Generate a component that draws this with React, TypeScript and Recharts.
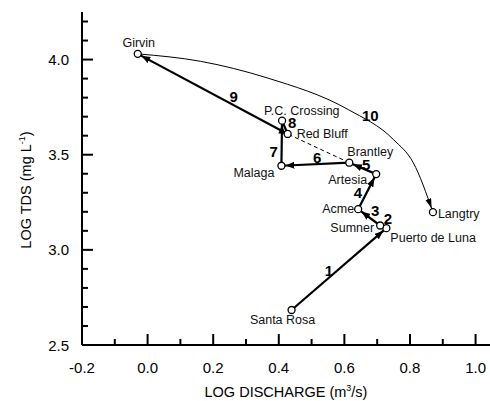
import { ComposedChart, Line, Scatter, XAxis, YAxis } from "recharts";

// stations along the river, in flow order
const stations = [
  "Santa Rosa",
  "Puerto de Luna",
  "Sumner",
  "Acme",
  "Artesia",
  "Brantley",
  "Malaga",
  "Red Bluff",
  "P.C. Crossing",
  "Girvin",
  "Langtry",
];
const logDischarge = [0.439, 0.728, 0.709, 0.642, 0.697, 0.615, 0.408, 0.427, 0.41, -0.03, 0.87];
const logTds = [2.684, 3.114, 3.128, 3.214, 3.398, 3.458, 3.442, 3.609, 3.679, 4.03, 3.198];

// reaches 1-9 as station indices (from -> to); reach 10 is the curve below
const reachFrom = [0, 1, 2, 3, 4, 5, 6, 8, 7];
const reachTo = [1, 2, 3, 4, 5, 6, 8, 7, 9];
const reachNames = ["1", "2", "3", "4", "5", "6", "7", "8", "9", "10"];

// points read along the Girvin -> Langtry curve (reach 10)
const curveDischarge = [-0.03, 0.161, 0.364, 0.612, 0.75, 0.81, 0.87];
const curveTds = [4.03, 3.991, 3.904, 3.737, 3.579, 3.458, 3.198];

// dashed link: Brantley -> Red Bluff
const dashedFrom = 5;
const dashedTo = 7;

const xTicks = [-0.2, -0.1, 0, 0.1, 0.2, 0.3, 0.4, 0.5, 0.6, 0.7, 0.8, 0.9, 1.0];
const yTicks = [2.5, 2.6, 2.7, 2.8, 2.9, 3.0, 3.1, 3.2, 3.3, 3.4, 3.5, 3.6, 3.7, 3.8, 3.9, 4.0, 4.1, 4.2];

const FONT = "'Liberation Sans', Arial, Helvetica, sans-serif";

// label placement per station: dx, dy (baseline), anchor
const stationLabel: Record<string, [number, number, "start" | "middle" | "end"]> = {
  "Santa Rosa": [-9, 14.5, "middle"],
  "Puerto de Luna": [4, 14, "start"],
  Sumner: [-6, 6.5, "end"],
  Acme: [-4, 3.5, "end"],
  Artesia: [-9, 9.5, "end"],
  Brantley: [-2, -7, "start"],
  Malaga: [-7, 11, "end"],
  "Red Bluff": [9, 4.5, "start"],
  "P.C. Crossing": [-18, -5.5, "start"],
  Girvin: [1, -7, "middle"],
  Langtry: [5, 5.5, "start"],
};
// reach number offset from the reach midpoint (px)
const reachLabel: [number, number][] = [
  [-10, 1],
  [4.7, -8.7],
  [6, -6.5],
  [-9.3, 0.5],
  [3.5, -4.4],
  [1.7, -6.8],
  [-8, 8.2],
  [7.2, -4.4],
  [21, 2.4],
  [85, -17.6],
];

const pt = (i: number) => ({ x: logDischarge[i], y: logTds[i] });
const stationPoints = stations.map((name, i) => ({ name, ...pt(i) }));
const reaches = reachFrom.map((f, k) => [pt(f), pt(reachTo[k])]);
const curve = curveDischarge.map((x, i) => ({ x, y: curveTds[i] }));
const dashed = [pt(dashedFrom), pt(dashedTo)];
const lastStation = stations.length - 1;
const reachMid = reachNames.map((name, k) => {
  const f = k < reachFrom.length ? reachFrom[k] : 9;
  const t = k < reachTo.length ? reachTo[k] : lastStation;
  return {
    name,
    k,
    x: (logDischarge[f] + logDischarge[t]) / 2,
    y: (logTds[f] + logTds[t]) / 2,
  };
});

const isMajorX = (v: number) => Math.round(v * 10) % 2 === 0;
const isMajorY = (v: number) => Math.round(v * 10) % 5 === 0;
const MAJOR = 11;
const MINOR = 6;

function BottomTick({ x, y, payload }: any) {
  const major = isMajorX(payload.value);
  return (
    <g>
      <line x1={x} x2={x} y1={y} y2={y - (major ? MAJOR : MINOR)} stroke="#000" strokeWidth={2} />
      {major && (
        <text x={x} y={y + 28} textAnchor="middle" fontSize={15} fontFamily={FONT} fill="#000">
          {payload.value.toFixed(1)}
        </text>
      )}
    </g>
  );
}

function TopTick({ x, y, payload }: any) {
  const major = isMajorX(payload.value);
  return <line x1={x} x2={x} y1={y} y2={y + (major ? MAJOR : MINOR)} stroke="#000" strokeWidth={2} />;
}

function LeftTick({ x, y, payload }: any) {
  const major = isMajorY(payload.value);
  return (
    <g>
      <line x1={x} x2={x + (major ? MAJOR : MINOR)} y1={y} y2={y} stroke="#000" strokeWidth={2} />
      {major && (
        <text x={x - 13} y={y + 5.5} textAnchor="end" fontSize={15} fontFamily={FONT} fill="#000">
          {payload.value.toFixed(1)}
        </text>
      )}
    </g>
  );
}

function RightTick({ x, y, payload }: any) {
  const major = isMajorY(payload.value);
  return <line x1={x} x2={x - (major ? MAJOR : MINOR)} y1={y} y2={y} stroke="#000" strokeWidth={2} />;
}

function StationShape({ cx, cy, payload }: any) {
  const [dx, dy, anchor] = stationLabel[payload.name];
  return (
    <g>
      <circle cx={cx} cy={cy} r={3.5} fill="#fff" stroke="#000" strokeWidth={1.3} />
      <text x={cx + dx} y={cy + dy} textAnchor={anchor} fontSize={12.5} fontFamily={FONT} fill="#111">
        {payload.name}
      </text>
    </g>
  );
}

function ReachShape({ cx, cy, payload }: any) {
  const [dx, dy] = reachLabel[payload.k];
  return (
    <text
      x={cx + dx}
      y={cy + dy + 5.5}
      textAnchor="middle"
      fontSize={15}
      fontWeight="bold"
      fontFamily={FONT}
      fill="#000"
    >
      {payload.name}
    </text>
  );
}

export default function App() {
  return (
    <div style={{ position: "absolute", left: 0, top: 0, width: 490, height: 401 }}>
      <ComposedChart width={490} height={401} margin={{ top: 12, right: 0, bottom: 16, left: 32 }}>
        <defs>
          <marker
            id="arrowBold"
            markerUnits="userSpaceOnUse"
            markerWidth={10}
            markerHeight={8}
            refX={13}
            refY={3.5}
            orient="auto"
          >
            <path d="M0,0 L9,3.5 L0,7 Z" fill="#000" />
          </marker>
          <marker
            id="arrowThin"
            markerUnits="userSpaceOnUse"
            markerWidth={11}
            markerHeight={7}
            refX={14}
            refY={3}
            orient="auto"
          >
            <path d="M0,0 L10,3 L0,6 Z" fill="#000" />
          </marker>
        </defs>
        <XAxis
          xAxisId="bottom"
          dataKey="x"
          type="number"
          domain={[-0.2, 1.044]}
          ticks={xTicks}
          interval={0}
          allowDataOverflow
          height={40}
          tickSize={0}
          tickMargin={0}
          tickLine={false}
          tick={BottomTick}
          axisLine={{ stroke: "#000", strokeWidth: 2 }}
        />
        <XAxis
          xAxisId="top"
          orientation="top"
          dataKey="x"
          type="number"
          domain={[-0.2, 1.044]}
          ticks={xTicks}
          interval={0}
          allowDataOverflow
          height={0}
          tickSize={0}
          tickMargin={0}
          tickLine={false}
          tick={TopTick}
          axisLine={{ stroke: "#000", strokeWidth: 2 }}
        />
        <YAxis
          yAxisId="left"
          dataKey="y"
          type="number"
          domain={[2.5, 4.25]}
          ticks={yTicks}
          interval={0}
          allowDataOverflow
          width={50}
          tickSize={0}
          tickMargin={0}
          tickLine={false}
          tick={LeftTick}
          axisLine={{ stroke: "#000", strokeWidth: 2 }}
        />
        <YAxis
          yAxisId="right"
          orientation="right"
          dataKey="y"
          type="number"
          domain={[2.5, 4.25]}
          ticks={yTicks}
          interval={0}
          allowDataOverflow
          width={0}
          tickSize={0}
          tickMargin={0}
          tickLine={false}
          tick={RightTick}
          axisLine={false}
        />
        <Line
          xAxisId="bottom"
          yAxisId="left"
          data={dashed}
          dataKey="y"
          stroke="#000"
          strokeWidth={1}
          strokeDasharray="4 3"
          dot={false}
          activeDot={false}
          isAnimationActive={false}
        />
        <Line
          xAxisId="bottom"
          yAxisId="left"
          data={curve}
          dataKey="y"
          type="monotoneX"
          stroke="#000"
          strokeWidth={1}
          markerEnd="url(#arrowThin)"
          dot={false}
          activeDot={false}
          isAnimationActive={false}
        />
        {reaches.map((seg, k) => (
          <Line
            key={k}
            xAxisId="bottom"
            yAxisId="left"
            data={seg}
            dataKey="y"
            stroke="#000"
            strokeWidth={2.2}
            markerEnd={k === 1 || k === 7 ? undefined : "url(#arrowBold)"}
            dot={false}
            activeDot={false}
            isAnimationActive={false}
          />
        ))}
        <Scatter
          xAxisId="bottom"
          yAxisId="left"
          data={stationPoints}
          shape={StationShape}
          isAnimationActive={false}
        />
        <Scatter
          xAxisId="bottom"
          yAxisId="left"
          data={reachMid}
          shape={ReachShape}
          isAnimationActive={false}
        />
      </ComposedChart>
      <svg width={490} height={401} style={{ position: "absolute", left: 0, top: 0, pointerEvents: "none" }}>
        <text x={286} y={397} textAnchor="middle" fontSize={14.5} fontFamily={FONT} fill="#000">
          LOG DISCHARGE (m
          <tspan dy={-6} fontSize={9}>
            3
          </tspan>
          <tspan dy={6}>/s)</tspan>
        </text>
        <text
          x={31}
          y={190}
          textAnchor="middle"
          fontSize={14.5}
          fontFamily={FONT}
          fill="#000"
          transform="rotate(-90 31 190)"
        >
          LOG TDS (mg L
          <tspan dy={-6} fontSize={9}>
            -1
          </tspan>
          <tspan dy={6}>)</tspan>
        </text>
      </svg>
    </div>
  );
}
